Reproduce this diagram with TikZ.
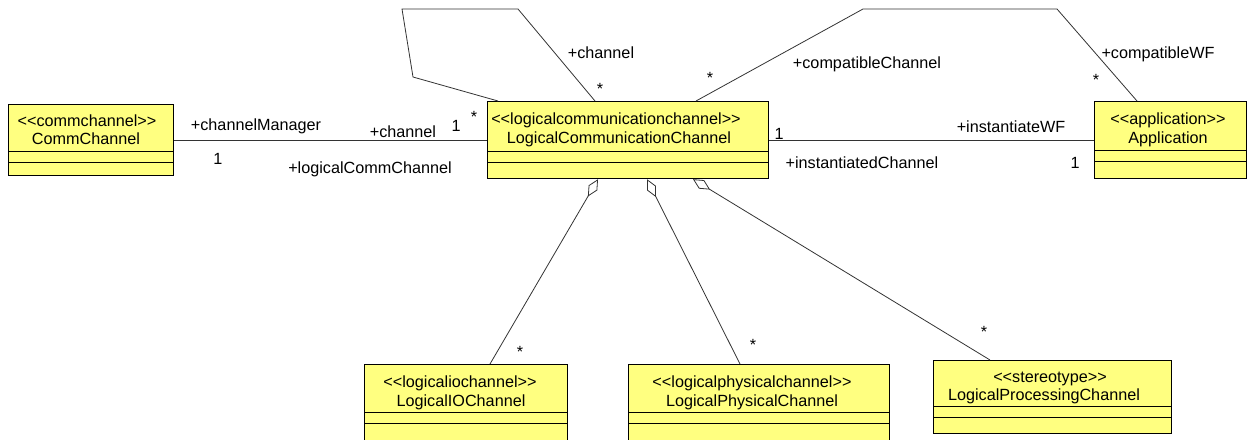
\documentclass[tikz,border=0pt]{standalone}
\usepackage{fontspec}
\setmainfont{Liberation Sans}[Ligatures=TeXOff]
\usetikzlibrary{arrows.meta,calc}
\definecolor{umlyellow}{RGB}{255,255,128}
\begin{document}
\begin{tikzpicture}[x=1pt,y=-1pt,
  umlbox/.style={draw=black,line width=1.2pt,fill=umlyellow,inner sep=0pt,anchor=north west},
  txt/.style={font=\fontsize{16.2}{19}\selectfont,inner sep=0pt,anchor=base},
  assoc/.style={draw=black!80,line width=0.8pt},
  agg/.style={assoc,{Diamond[open,fill=white,length=20pt,width=10pt]}-}
]
\clip (0,0) rectangle (1247,439);
% boxes
\node[umlbox,minimum width=165pt,minimum height=71pt] (cc) at (8,104) {};
\node[umlbox,minimum width=281pt,minimum height=77pt] (lcc) at (487,101) {};
\node[umlbox,minimum width=152pt,minimum height=77pt] (app) at (1094,101) {};
\node[umlbox,minimum width=203pt,minimum height=90pt] (io) at (364,364) {};
\node[umlbox,minimum width=261pt,minimum height=90pt] (phy) at (628,364) {};
\node[umlbox,minimum width=238pt,minimum height=73pt] (proc) at (933,360) {};
% dividers
\foreach \b/\ya/\yb in {cc/151/162, lcc/151/162, app/150/161, io/412/423, phy/412/423, proc/406/417}{
  \draw[line width=1pt] (\b.west |- 0,\ya) -- (\b.east |- 0,\ya);
  \draw[line width=1pt] (\b.west |- 0,\yb) -- (\b.east |- 0,\yb);
}
% box texts
\node[txt] (ccS) at (87,126) {<\kern0pt<commchannel>\kern0pt>};
\node[txt] (ccN) at (86,144) {CommChannel};
\node[txt] (lccS) at (616,124) {<\kern0pt<logicalcommunicationchannel>\kern0pt>};
\node[txt] (lccN) at (619,143) {LogicalCommunicationChannel};
\node[txt] (appS) at (1168,124) {<\kern0pt<application>\kern0pt>};
\node[txt] (appN) at (1168,143) {Application};
\node[txt] (ioS) at (460,387) {<\kern0pt<logicaliochannel>\kern0pt>};
\node[txt] (ioN) at (461,406) {LogicalIOChannel};
\node[txt] (phyS) at (752,387) {<\kern0pt<logicalphysicalchannel>\kern0pt>};
\node[txt] (phyN) at (752,406) {LogicalPhysicalChannel};
\node[txt] (procS) at (1050,382) {<\kern0pt<stereotype>\kern0pt>};
\node[txt] (procN) at (1044,400) {LogicalProcessingChannel};
% associations
\draw[assoc] (cc.east) -- (lcc.west);
\draw[assoc] (lcc.east) -- (app.west);
\coordinate (s1) at (413,77);
\coordinate (s2) at (402,9);
\coordinate (s3) at (518,9);
\draw[assoc] ($(lcc.north west)+(11,0)$) -- (s1) -- (s2) -- (s3) -- ($(lcc.north west)+(108,0)$);
\coordinate (c1) at (863,9);
\coordinate (c2) at (1057,9);
\draw[assoc] ($(lcc.north west)+(209,0)$) -- (c1) -- (c2) -- ($(app.north west)+(43,0)$);
% aggregations
\draw[agg] ($(lcc.south west)+(111,0)$) -- ($(io.north west)+(126,0)$);
\draw[agg] ($(lcc.south west)+(160,0)$) -- ($(phy.north west)+(112,0)$);
\draw[agg] ($(lcc.south west)+(206,0)$) -- ($(proc.north west)+(57,0)$);
% labels
\node[txt] (lChMgr) at (256,130) {+channelManager};
\node[txt] (lOne1) at (218,164) {1};
\node[txt] (lChan1) at (403,137) {+channel};
\node[txt] (lOne2) at (456,131) {1};
\node[txt] (lStar1) at (474,122) {*};
\node[txt] (lLcc) at (370,173) {+logicalCommChannel};
\node[txt] (lChan2) at (601,58) {+channel};
\node[txt] (lStar2) at (600,94) {*};
\node[txt] (lStar3) at (710,83) {*};
\node[txt] (lCompCh) at (867,68) {+compatibleChannel};
\node[txt] (lCompWF) at (1158,58) {+compatibleWF};
\node[txt] (lStar4) at (1096,85) {*};
\node[txt] (lOne3) at (779,139) {1};
\node[txt] (lInstWF) at (1011,132) {+instantiateWF};
\node[txt] (lInstCh) at (862,168) {+instantiatedChannel};
\node[txt] (lOne4) at (1075,168) {1};
\node[txt] (lStar5) at (520,357) {*};
\node[txt] (lStar6) at (753,350) {*};
\node[txt] (lStar7) at (984,337) {*};
\end{tikzpicture}
\end{document}
